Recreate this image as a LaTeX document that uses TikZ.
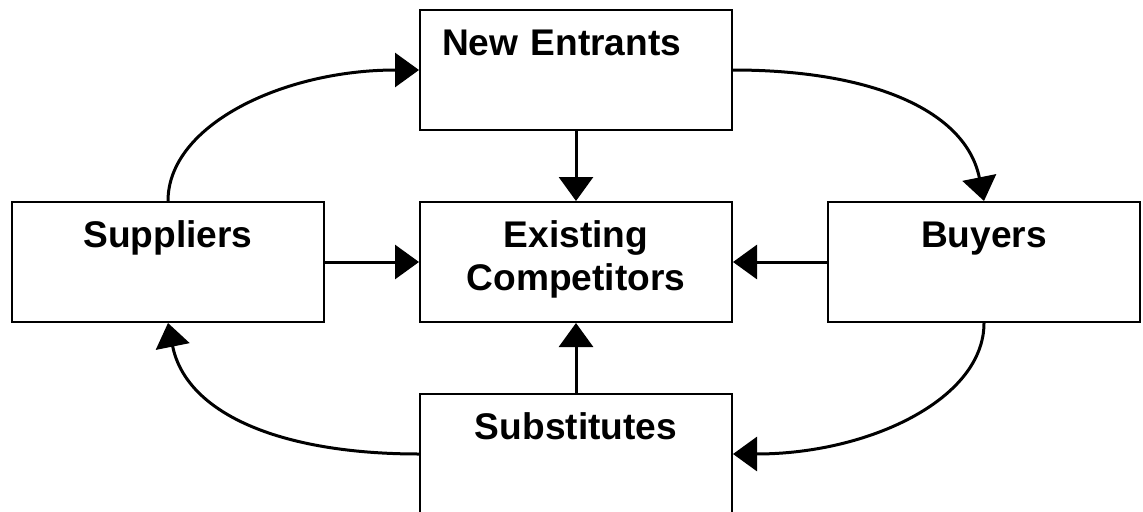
\documentclass[tikz,border=0pt]{standalone}
\usepackage{fontspec}
\setmainfont{Liberation Sans}
\usetikzlibrary{arrows.meta}

\begin{document}
\begin{tikzpicture}[
  forcebox/.style={draw,line width=0.05cm,inner xsep=0.55cm,inner ysep=0pt,
    text width=6.7cm,text height=1.125cm,text depth=1.875cm,align=center,
    font=\bfseries\fontsize{26.4pt}{30.6pt}\selectfont},
  forcearrow/.style={-{Triangle[length=0.6cm,width=0.85cm]},line width=0.075cm}
]
  \useasboundingbox (0,0) rectangle (28.575,12.775);
  % the five forces
  \node[forcebox,align=left] (entrants) at (14.4,11.025) {New Entrants};
  \node[forcebox] (rivals) at (14.4,6.225) {Existing\\Competitors};
  \node[forcebox] (suppliers) at (4.2,6.225) {Suppliers};
  \node[forcebox] (buyers) at (24.6,6.225) {Buyers};
  \node[forcebox] (subst) at (14.4,1.425) {Substitutes};
  % straight arrows into the centre
  \draw[forcearrow] (entrants.south) -- (rivals.north);
  \draw[forcearrow] (subst.north) -- (rivals.south);
  \draw[forcearrow] (suppliers.east) -- (rivals.west);
  \draw[forcearrow] (buyers.west) -- (rivals.east);
  % curved arrows round the outside
  \draw[forcearrow] (suppliers.north) .. controls +(0,1.9) and +(-3.4,0) .. (entrants.west);
  \draw[forcearrow] (entrants.east) .. controls +(3.5,0) and +(-0.45,2.25) .. (buyers.north);
  \draw[forcearrow] (buyers.south) .. controls +(0,-1.9) and +(3.4,0) .. (subst.east);
  \draw[forcearrow] (subst.west) .. controls +(-3.5,0) and +(0.45,-2.25) .. (suppliers.south);
\end{tikzpicture}
\end{document}
